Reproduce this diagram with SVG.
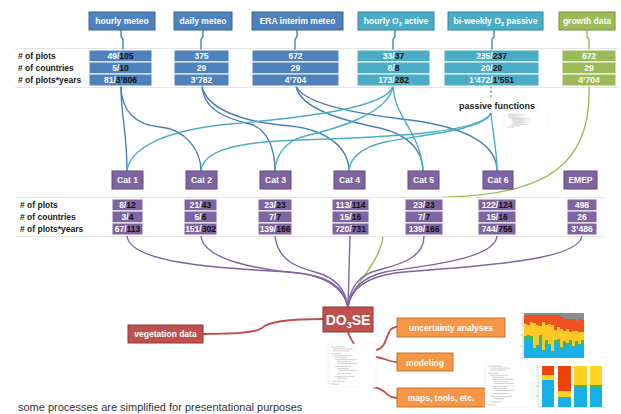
<svg xmlns="http://www.w3.org/2000/svg" width="621" height="414" viewBox="0 0 621 414">
<style>
.hb{fill:#4f81bd;stroke:#3a659a;stroke-width:1}
.ob{fill:#4bacc6;stroke:#31859c;stroke-width:1}
.gb{fill:#9bbb59;stroke:#76923c;stroke-width:1}
.pb{fill:#8064a2;stroke:#5f497a;stroke-width:1}
.rb{fill:#c0504d;stroke:#8c3836;stroke-width:1}
.orb{fill:#f79646;stroke:#c0722f;stroke-width:1}
.cell{stroke:#fff;stroke-width:1}
.t{font-family:"Liberation Sans",Arial,sans-serif;font-weight:bold;font-size:8.5px;fill:#fff;text-anchor:middle}
.k{fill:#111}
.lbl{font-family:"Liberation Sans",Arial,sans-serif;font-weight:bold;font-size:8.5px;fill:#222}
.c{fill:none;stroke-width:1.4}
.cb{stroke:#4a7ebb}
.cc{stroke:#4bacc6}
.cg{stroke:#9bbb59}
.cp{stroke:#8064a2}
.cr{stroke:#c0504d;stroke-width:1.8}
.tbl{stroke:#e6e6e6;stroke-width:1}
</style>
<defs>
<g id="code">
<rect x="0" y="0" width="48" height="44" fill="#fff" stroke="#eee" stroke-width="0.5"/>
<path d="M3,3h14M5,5h20M5,7h16M3,10h10M5,12h18M7,14h12M7,16h22M9,18h14M9,20h20M7,23h16M9,25h12M11,27h18M9,30h14M7,33h20M9,35h10M5,38h12M3,41h8" stroke="#b0b0b0" stroke-width="0.6" fill="none"/>
<path d="M1,3v38" stroke="#ddd" stroke-width="0.8" stroke-dasharray="0.8,1.5"/>
</g>
</defs>
<rect width="621" height="414" fill="#fff"/>

<!-- table guide lines -->
<path class="tbl" d="M15,48.5H618M15,87.5H618"/>

<g id="connectors">
<!-- header jogs -->
<path class="c cb" d="M121,30v6c0,3 2,1 2,4v10"/>
<path class="c cb" d="M203,30v6c0,3 -2,1 -2,4v10"/>
<path class="c cb" d="M297,30v6c0,3 -2,1 -2,4v10"/>
<path class="c cb" d="M395,30v6c0,3 -2,1 -2,4v10"/>
<path class="c cb" d="M494,30v6c0,3 -2,1 -2,4v10"/>
<path class="c cg" d="M587,30v6c0,3 2,1 2,4v10"/>
<!-- meteo to cats -->
<path class="c cb" d="M121,86C121,100 122,110 124,125C125,135 127,150 127,171"/>
<path class="c cb" d="M121,86C121,110 135,125 160,127C185,129 201,150 201,171"/>
<path class="c cb" d="M202,86C204,110 225,118 250,124C268,129 275,150 275,171"/>
<path class="c cb" d="M202,86C206,108 240,122 290,126C330,130 349,150 349,171"/>
<path class="c cb" d="M296,86C300,108 340,120 380,128C410,135 423,152 423,171"/>
<path class="c cb" d="M296,86C302,100 340,112 410,120C470,128 497,145 497,171"/>
<!-- ozone to cats -->
<path class="c cc" d="M393,86C395,120 420,130 423,171"/>
<path class="c cc" d="M393,86C390,112 340,128 305,136C285,141 276,155 275,171"/>
<path class="c cc" d="M393,86C388,108 300,118 230,124C165,130 130,148 127,171"/>
<path class="c cc" d="M491,86V100" stroke-dasharray="2.5,2"/>
<path class="c cc" d="M491,113C493,135 497,150 497,171"/>
<path class="c cc" d="M491,113C485,130 420,135 385,142C360,148 350,158 349,171"/>
<path class="c cc" d="M491,113C480,132 400,137 300,140C230,142 203,152 201,171"/>
<!-- growth -->
<path class="c cg" d="M589,86C592,165 545,194 450,197C400,199 386,218 383,237C379,265 352,285 348,307"/>
</g>

<!-- cat stats table background (hides green) -->
<rect x="15" y="197" width="590" height="39" fill="#fff"/>
<path class="tbl" d="M15,197.5H605M15,236.5H605"/>

<g id="connectors-bottom">
<path class="c cp" d="M127,236C130,262 210,268 290,272C330,275 344,290 348,307"/>
<path class="c cp" d="M201,236C204,262 265,270 305,274C335,278 345,292 348,307"/>
<path class="c cp" d="M275,236C278,262 300,268 315,272C338,278 346,292 348,307"/>
<path class="c cp" d="M350,236L348,307"/>
<path class="c cp" d="M424,236C424,262 390,266 372,272C356,278 349,292 348,307"/>
<path class="c cp" d="M497,236C495,260 420,266 385,272C360,278 350,292 348,307"/>
<path class="c cp" d="M582,236C578,262 470,266 395,273C362,278 350,292 348,307"/>
<path class="c cr" d="M203,334C235,334 255,333 262,328C268,321 290,319 323,319"/>
<path class="c cr" d="M348,332C349,337 352,340 354,344"/>
<path class="c cr" d="M376,350C390,347 384,327 397,327"/>
<path class="c cr" d="M376,357C386,358 388,362 397,362"/>
<path class="c cr" d="M373,387C388,389 385,398 397,398"/>
</g>

<!-- row labels -->
<g id="labels-top">
<text class="lbl" x="18" y="59">#  of plots</text>
<text class="lbl" x="18" y="71">#  of countries</text>
<text class="lbl" x="18" y="83">#  of plots*years</text>
</g>
<g id="labels-cat">
<text class="lbl" x="20" y="208">#  of plots</text>
<text class="lbl" x="20" y="220">#  of countries</text>
<text class="lbl" x="20" y="232">#  of plots*years</text>
</g>

<!-- source nodes -->
<g id="hourly-meteo">
<rect class="hb" x="89" y="12" width="66" height="18"/>
<text class="t" x="122" y="24">hourly meteo</text>
<rect class="hb cell" x="89" y="50" width="63" height="12"/>
<rect class="hb cell" x="89" y="62" width="63" height="12"/>
<rect class="hb cell" x="89" y="74" width="63" height="12"/>
<text class="t" x="120.5" y="59">49/<tspan class="k">105</tspan></text>
<text class="t" x="120.5" y="71">5/<tspan class="k">10</tspan></text>
<text class="t" x="120.5" y="83">81/<tspan class="k">3’806</tspan></text>
</g>
<g id="daily-meteo">
<rect class="hb" x="174" y="12" width="58" height="18"/>
<text class="t" x="203" y="24">daily meteo</text>
<rect class="hb cell" x="174" y="50" width="55" height="12"/>
<rect class="hb cell" x="174" y="62" width="55" height="12"/>
<rect class="hb cell" x="174" y="74" width="55" height="12"/>
<text class="t" x="201.5" y="59">375</text>
<text class="t" x="201.5" y="71">29</text>
<text class="t" x="201.5" y="83">3’782</text>
</g>
<g id="era-meteo">
<rect class="hb" x="252" y="12" width="91" height="18"/>
<text class="t" x="297.5" y="24">ERA interim meteo</text>
<rect class="hb cell" x="252" y="50" width="87" height="12"/>
<rect class="hb cell" x="252" y="62" width="87" height="12"/>
<rect class="hb cell" x="252" y="74" width="87" height="12"/>
<text class="t" x="295.5" y="59">672</text>
<text class="t" x="295.5" y="71">29</text>
<text class="t" x="295.5" y="83">4’704</text>
</g>
<g id="hourly-o3">
<rect class="ob" x="358" y="12" width="76" height="18"/>
<text class="t" x="396" y="24">hourly O<tspan font-size="5.5" dy="2">3</tspan><tspan dy="-2"> active</tspan></text>
<rect class="ob cell" x="357" y="50" width="73" height="12"/>
<rect class="ob cell" x="357" y="62" width="73" height="12"/>
<rect class="ob cell" x="357" y="74" width="73" height="12"/>
<text class="t" x="393.5" y="59">33/<tspan class="k">37</tspan></text>
<text class="t" x="393.5" y="71">8/<tspan class="k">8</tspan></text>
<text class="t" x="393.5" y="83">173/<tspan class="k">282</tspan></text>
</g>
<g id="biweekly-o3">
<rect class="ob" x="448" y="12" width="95" height="18"/>
<text class="t" x="495.5" y="24">bi-weekly O<tspan font-size="5.5" dy="2">3</tspan><tspan dy="-2"> passive</tspan></text>
<rect class="ob cell" x="444" y="50" width="95" height="12"/>
<rect class="ob cell" x="444" y="62" width="95" height="12"/>
<rect class="ob cell" x="444" y="74" width="95" height="12"/>
<text class="t" x="491.5" y="59">235/<tspan class="k">237</tspan></text>
<text class="t" x="491.5" y="71">20/<tspan class="k">20</tspan></text>
<text class="t" x="491.5" y="83">1’472/<tspan class="k">1’551</tspan></text>
</g>
<g id="growth-data">
<rect class="gb" x="559" y="12" width="56" height="18"/>
<text class="t" x="587" y="24">growth data</text>
<rect class="gb cell" x="562" y="50" width="54" height="12"/>
<rect class="gb cell" x="562" y="62" width="54" height="12"/>
<rect class="gb cell" x="562" y="74" width="54" height="12"/>
<text class="t" x="589" y="59">672</text>
<text class="t" x="589" y="71">29</text>
<text class="t" x="589" y="83">4’704</text>
</g>

<g id="passive-functions">
<text x="497" y="108.5" font-family="Liberation Sans,Arial,sans-serif" font-weight="bold" font-size="9px" fill="#222" text-anchor="middle">passive functions</text>
<use href="#code" transform="translate(504,113) scale(0.9,0.35)"/>
</g>

<!-- categories -->
<g id="cat1">
<rect class="pb" x="112" y="171" width="31" height="18"/>
<text class="t" x="127.5" y="183">Cat 1</text>
<rect class="pb cell" x="112" y="199" width="31" height="12"/>
<rect class="pb cell" x="112" y="211" width="31" height="12"/>
<rect class="pb cell" x="112" y="223" width="31" height="12"/>
<text class="t" x="127.5" y="208">8/<tspan class="k">12</tspan></text>
<text class="t" x="127.5" y="220">3/<tspan class="k">4</tspan></text>
<text class="t" x="127.5" y="232">67/<tspan class="k">113</tspan></text>
</g>
<g id="cat2">
<rect class="pb" x="186" y="171" width="31" height="18"/>
<text class="t" x="201.5" y="183">Cat 2</text>
<rect class="pb cell" x="184" y="199" width="33" height="12"/>
<rect class="pb cell" x="184" y="211" width="33" height="12"/>
<rect class="pb cell" x="184" y="223" width="33" height="12"/>
<text class="t" x="200.5" y="208">21/<tspan class="k">43</tspan></text>
<text class="t" x="200.5" y="220">5/<tspan class="k">6</tspan></text>
<text class="t" x="200.5" y="232">151/<tspan class="k">302</tspan></text>
</g>
<g id="cat3">
<rect class="pb" x="260" y="171" width="31" height="18"/>
<text class="t" x="275.5" y="183">Cat 3</text>
<rect class="pb cell" x="258" y="199" width="34" height="12"/>
<rect class="pb cell" x="258" y="211" width="34" height="12"/>
<rect class="pb cell" x="258" y="223" width="34" height="12"/>
<text class="t" x="275" y="208">23/<tspan class="k">23</tspan></text>
<text class="t" x="275" y="220">7/<tspan class="k">7</tspan></text>
<text class="t" x="275" y="232">139/<tspan class="k">166</tspan></text>
</g>
<g id="cat4">
<rect class="pb" x="334" y="171" width="31" height="18"/>
<text class="t" x="349.5" y="183">Cat 4</text>
<rect class="pb cell" x="332" y="199" width="37" height="12"/>
<rect class="pb cell" x="332" y="211" width="37" height="12"/>
<rect class="pb cell" x="332" y="223" width="37" height="12"/>
<text class="t" x="350.5" y="208">113/<tspan class="k">114</tspan></text>
<text class="t" x="350.5" y="220">15/<tspan class="k">16</tspan></text>
<text class="t" x="350.5" y="232">720/<tspan class="k">731</tspan></text>
</g>
<g id="cat5">
<rect class="pb" x="408" y="171" width="31" height="18"/>
<text class="t" x="423.5" y="183">Cat 5</text>
<rect class="pb cell" x="405" y="199" width="38" height="12"/>
<rect class="pb cell" x="405" y="211" width="38" height="12"/>
<rect class="pb cell" x="405" y="223" width="38" height="12"/>
<text class="t" x="424" y="208">23/<tspan class="k">23</tspan></text>
<text class="t" x="424" y="220">7/<tspan class="k">7</tspan></text>
<text class="t" x="424" y="232">139/<tspan class="k">166</tspan></text>
</g>
<g id="cat6">
<rect class="pb" x="483" y="171" width="30" height="18"/>
<text class="t" x="498" y="183">Cat 6</text>
<rect class="pb cell" x="478" y="199" width="38" height="12"/>
<rect class="pb cell" x="478" y="211" width="38" height="12"/>
<rect class="pb cell" x="478" y="223" width="38" height="12"/>
<text class="t" x="497" y="208">122/<tspan class="k">124</tspan></text>
<text class="t" x="497" y="220">15/<tspan class="k">16</tspan></text>
<text class="t" x="497" y="232">744/<tspan class="k">756</tspan></text>
</g>
<g id="emep">
<rect class="pb" x="564" y="171" width="33" height="18"/>
<text class="t" x="580.5" y="183">EMEP</text>
<rect class="pb cell" x="567" y="199" width="30" height="12"/>
<rect class="pb cell" x="567" y="211" width="30" height="12"/>
<rect class="pb cell" x="567" y="223" width="30" height="12"/>
<text class="t" x="582" y="208">498</text>
<text class="t" x="582" y="220">26</text>
<text class="t" x="582" y="232">3’486</text>
</g>

<!-- model -->
<g id="do3se">
<rect class="rb" x="323" y="307" width="50" height="25"/>
<text x="348" y="324.5" font-family="Liberation Sans,Arial,sans-serif" font-weight="bold" font-size="14px" fill="#fff" text-anchor="middle">DO<tspan font-size="9px" dy="3">3</tspan><tspan dy="-3">SE</tspan></text>
</g>
<g id="vegetation-data">
<rect class="rb" x="128" y="325" width="75" height="18"/>
<text class="t" x="165.5" y="337">vegetation data</text>
</g>
<g id="code-image">
<use href="#code" transform="translate(328,344) scale(1,0.98)"/>
</g>
<g id="uncertainty">
<rect class="orb" x="397" y="318" width="108" height="19"/>
<text class="t" x="451" y="331" font-size="9.7px">uncertainty analyses</text>
</g>
<g id="modeling">
<rect class="orb" x="397" y="353" width="56" height="18"/>
<text class="t" x="425" y="365.5" font-size="9.7px">modeling</text>
</g>
<g id="maps">
<rect class="orb" x="397" y="388" width="88" height="19"/>
<text class="t" x="441" y="401" font-size="9.7px">maps, tools, etc.</text>
</g>

<!-- charts -->
<g id="chart-top">
<rect x="517" y="310" width="69" height="51" fill="#fff"/>
<path d="M523,313V358M520,313h3M520,324h3M520,335h3M520,346h3M520,358h3" stroke="#bbb" stroke-width="0.6" fill="none"/>
<rect x="524" y="313" width="60" height="45" fill="#8c8c8c"/>
<path fill="#f0501e" d="M524,358V315H560V317H563V319H575V321H578V319H581V320H584V358Z"/>
<path fill="#ffc824" d="M524,358V324H527V325H530V322H533V323H536V325H539V326H542V322H545V325H548V324H551V325H554V330H557V327H560V329H563V331H566V329H569V332H572V331H578V332H584V358Z"/>
<path fill="#4cb848" d="M524,358V336H527V335H530V336H533V348H536V345H539V335H542V350H545V340H548V344H551V351H554V340H557V339H560V347H563V341H566V343H569V340H572V346H575V341H578V344H581V340H584V358Z"/>
<path fill="#17b0ea" d="M524,358V340H527V338H530V341H533V350H536V348H539V339H542V352H545V343H548V346H551V353H554V344H557V342H560V349H563V343H566V346H569V342H572V348H575V344H578V346H581V343H584V358Z"/>
</g>
<g id="code-image-2">
<use href="#code" transform="translate(485,363) scale(1,1.02)"/>
</g>
<g id="chart-bottom">
<rect x="533" y="362" width="78" height="51" fill="#fff"/>
<path d="M538,366V407H606M536,366h2M536,376h2M536,386h2M536,396h2" stroke="#bbb" stroke-width="0.6" fill="none"/>
<rect x="542" y="366" width="12" height="9" fill="#f04405"/>
<rect x="542" y="375" width="12" height="5" fill="#ffd320"/>
<rect x="542" y="380" width="12" height="27" fill="#17b0ea"/>
<rect x="558" y="366" width="13" height="25" fill="#f04405"/>
<rect x="558" y="391" width="13" height="6" fill="#ffd320"/>
<rect x="558" y="397" width="13" height="10" fill="#17b0ea"/>
<rect x="574" y="366" width="13" height="19" fill="#ffd320"/>
<rect x="574" y="385" width="13" height="2" fill="#4cb848"/>
<rect x="574" y="387" width="13" height="20" fill="#17b0ea"/>
<rect x="590" y="366" width="12" height="19" fill="#ffd320"/>
<rect x="590" y="385" width="12" height="2" fill="#4cb848"/>
<rect x="590" y="387" width="12" height="20" fill="#17b0ea"/>
</g>

<text x="18" y="411" font-family="Liberation Sans,Arial,sans-serif" font-size="11px" fill="#333">some processes are simplified for presentational purposes</text>
</svg>
